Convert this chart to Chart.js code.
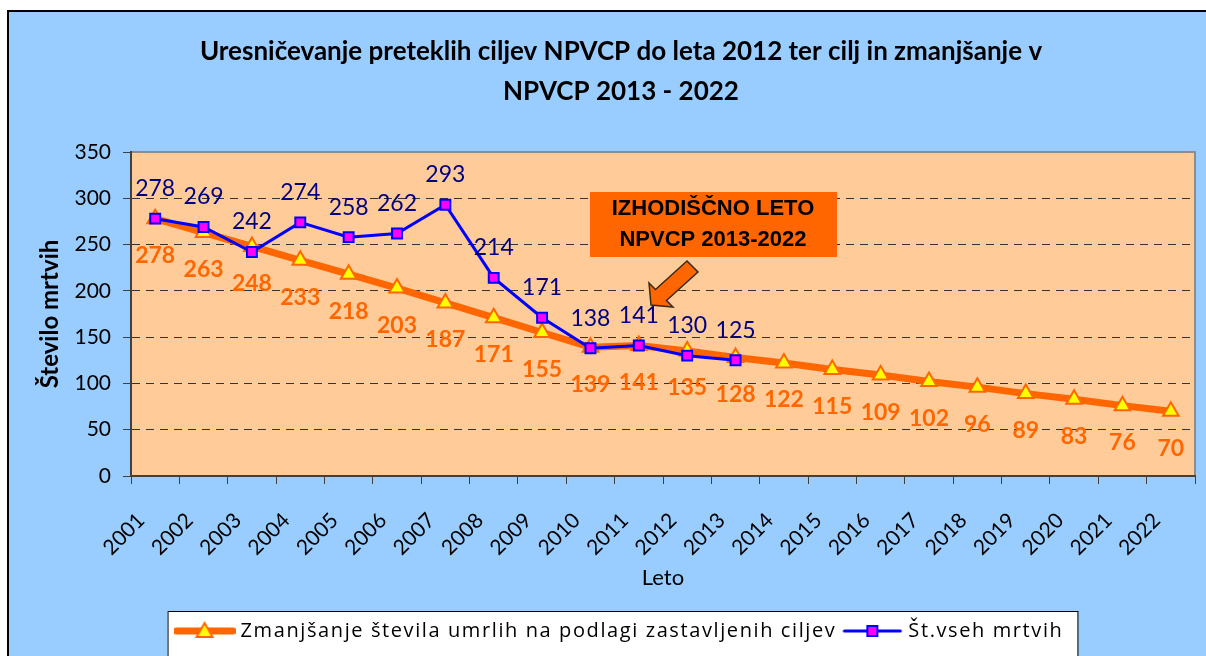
<!DOCTYPE html>
<html lang="sl">
<head>
    <meta charset="UTF-8">
    <title>Uresničevanje ciljev NPVCP</title>
    <script src="https://cdn.jsdelivr.net/npm/chart.js"></script>
    <style>
        body {
            margin: 0;
            overflow: hidden;
            background: #fff;
        }
        #frame {
            position: absolute;
            left: 7px;
            top: 10px;
            width: 1220px;
            height: 700px;
            border: 2px solid #000;
            background: #99ccff;
        }
        #chart {
            position: absolute;
            left: 0;
            top: 0;
        }
    </style>
</head>
<body>
<div id="frame"></div>
<canvas id="chart" width="1206" height="680"></canvas>

<script>
    // podatki
    const years = ['2001', '2002', '2003', '2004', '2005', '2006', '2007', '2008', '2009', '2010', '2011',
        '2012', '2013', '2014', '2015', '2016', '2017', '2018', '2019', '2020', '2021', '2022'];
    const goalDeaths = [278, 263, 248, 233, 218, 203, 187, 171, 155, 139, 141, 135, 128, 122, 115, 109, 102, 96, 89, 83, 76, 70];
    const actualDeaths = [278, 269, 242, 274, 258, 262, 293, 214, 171, 138, 141, 130, 125,
        null, null, null, null, null, null, null, null, null];
    const yMin = 0;
    const yMax = 350;
    const yStep = 50;
    const goalLabel = 'Zmanjšanje števila umrlih na podlagi zastavljenih ciljev';
    const actualLabel = 'Št.vseh mrtvih';
    const titleLines = ['Uresničevanje preteklih ciljev NPVCP do leta 2012 ter cilj in zmanjšanje v', 'NPVCP 2013 - 2022'];
    const noteLines = ['IZHODIŠČNO LETO', 'NPVCP 2013-2022'];

    Chart.defaults.font.family = 'Lato';

    // slikice za legendo (črta + oznaka)
    function legendMark(lineColor, lineWidth, drawMarker) {
        const c = document.createElement('canvas');
        c.width = 62;
        c.height = 22;
        const g = c.getContext('2d');
        g.strokeStyle = lineColor;
        g.lineWidth = lineWidth;
        g.lineCap = 'round';
        g.beginPath();
        g.moveTo(3, 11);
        g.lineTo(59, 11);
        g.stroke();
        drawMarker(g);
        return c;
    }

    const goalMark = legendMark('#ff6600', 7, g => {
        g.beginPath();
        g.moveTo(31, 3);
        g.lineTo(39, 17);
        g.lineTo(23, 17);
        g.closePath();
        g.fillStyle = '#ffff00';
        g.fill();
        g.lineWidth = 2;
        g.strokeStyle = '#ff6600';
        g.stroke();
    });
    const actualMark = legendMark('#0000ff', 3, g => {
        g.fillStyle = '#ff00ff';
        g.fillRect(26, 6, 10, 10);
        g.lineWidth = 2;
        g.strokeStyle = '#0000ff';
        g.strokeRect(26, 6, 10, 10);
    });

    // razmik med črkami v legendi (kot v izvirniku)
    const legendSpacing = {
        id: 'legendSpacing',
        beforeLayout(chart) {
            const lg = chart.legend;
            if (!lg || lg._spaced) return;
            lg._spaced = true;
            ['fit', 'draw'].forEach(name => {
                const orig = lg[name].bind(lg);
                lg[name] = function (...args) {
                    const c = chart.ctx;
                    const prev = c.letterSpacing;
                    c.letterSpacing = '1.6px';
                    const r = orig(...args);
                    c.letterSpacing = prev || '0px';
                    return r;
                };
            });
        }
    };

    // ozadje risalne površine in okvir legende
    const backdrop = {
        id: 'backdrop',
        beforeDraw(chart) {
            const {ctx, chartArea: a, legend} = chart;
            ctx.save();
            ctx.fillStyle = '#ffcc99';
            ctx.fillRect(a.left, a.top, a.right - a.left, a.bottom - a.top);
            ctx.strokeStyle = '#8c8c8c';
            ctx.lineWidth = 2;
            ctx.beginPath();
            ctx.moveTo(a.left, a.top);
            ctx.lineTo(a.right, a.top);
            ctx.lineTo(a.right, a.bottom);
            ctx.stroke();

            const boxes = legend.legendHitBoxes;
            if (boxes && boxes.length) {
                const last = boxes[boxes.length - 1];
                const x1 = boxes[0].left - 11;
                const x2 = last.left + last.width + 14;
                const y1 = legend.top;
                ctx.fillStyle = '#fff';
                ctx.fillRect(x1, y1, x2 - x1, 60);
                ctx.strokeStyle = '#000';
                ctx.lineWidth = 1;
                ctx.strokeRect(x1 + 0.5, y1 + 0.5, x2 - x1, 60);
            }
            ctx.restore();
        }
    };

    // vrednosti ob točkah
    const valueLabels = {
        id: 'valueLabels',
        afterDatasetsDraw(chart) {
            const ctx = chart.ctx;
            ctx.save();
            ctx.textAlign = 'center';
            ctx.textBaseline = 'middle';
            chart.data.datasets.forEach((ds, i) => {
                const meta = chart.getDatasetMeta(i);
                ctx.font = ds.valueFont;
                ctx.fillStyle = ds.valueColor;
                meta.data.forEach((pt, j) => {
                    const v = ds.data[j];
                    if (v === null || v === undefined) return;
                    ctx.fillText(String(v), pt.x, pt.y + ds.valueShift);
                });
            });
            ctx.restore();
        }
    };

    // napis in puščica
    const note = {
        id: 'note',
        afterDatasetsDraw(chart) {
            const ctx = chart.ctx;
            ctx.save();
            ctx.fillStyle = '#ff6600';
            ctx.fillRect(590, 192, 247, 65);
            ctx.fillStyle = '#000';
            ctx.font = 'bold 22px "Liberation Sans"';
            ctx.textAlign = 'center';
            ctx.textBaseline = 'middle';
            ctx.fillText(noteLines[0], 713, 209);
            ctx.fillText(noteLines[1], 713, 240);

            ctx.beginPath();
            ctx.moveTo(651, 305);
            ctx.lineTo(649, 283);
            ctx.lineTo(655.5, 289.5);
            ctx.lineTo(687, 261);
            ctx.lineTo(698, 272);
            ctx.lineTo(666.5, 300.5);
            ctx.lineTo(673, 307);
            ctx.closePath();
            ctx.fillStyle = '#ff6600';
            ctx.fill();
            ctx.strokeStyle = '#3a2a1a';
            ctx.lineWidth = 1.5;
            ctx.stroke();
            ctx.restore();
        }
    };

    const ctx = document.getElementById('chart').getContext('2d');

    new Chart(ctx, {
        type: 'line',
        data: {
            labels: years,
            datasets: [{
                label: actualLabel,
                data: actualDeaths,
                borderColor: '#0000ff',
                borderWidth: 3,
                pointStyle: 'rect',
                pointRadius: 7,
                pointBorderWidth: 2,
                pointBackgroundColor: '#ff00ff',
                pointBorderColor: '#0000ff',
                tension: 0,
                spanGaps: false,
                valueFont: '23px Lato',
                valueColor: '#000080',
                valueShift: -30
            }, {
                label: goalLabel,
                data: goalDeaths,
                borderColor: '#ff6600',
                borderWidth: 7,
                pointStyle: 'triangle',
                pointRadius: 9,
                pointBorderWidth: 2,
                pointBackgroundColor: '#ffff00',
                pointBorderColor: '#ff6600',
                tension: 0,
                valueFont: 'bold 23px Lato',
                valueColor: '#ff6600',
                valueShift: 37
            }]
        },
        options: {
            responsive: false,
            animation: false,
            layout: {
                padding: {left: 44, right: 8, top: 0, bottom: 29}
            },
            plugins: {
                tooltip: {enabled: false},
                title: {
                    display: true,
                    text: titleLines,
                    color: '#000',
                    font: {size: 26, weight: 'bold', lineHeight: 40 / 26},
                    padding: {top: 32, bottom: 40}
                },
                legend: {
                    position: 'bottom',
                    labels: {
                        color: '#000',
                        font: {family: 'Open Sans', size: 20},
                        usePointStyle: true,
                        pointStyleWidth: 52,
                        padding: 10,
                        generateLabels: chart => [
                            {text: goalLabel, pointStyle: goalMark, fontColor: '#000', datasetIndex: 1, lineWidth: 0},
                            {text: actualLabel, pointStyle: actualMark, fontColor: '#000', datasetIndex: 0, lineWidth: 0}
                        ]
                    }
                }
            },
            scales: {
                x: {
                    offset: true,
                    afterFit: s => {
                        s.height = 135;
                        s.paddingLeft = 0;
                        s.paddingRight = 0;
                    },
                    grid: {
                        offset: true,
                        drawOnChartArea: false,
                        tickLength: 8,
                        tickColor: '#404040',
                        color: '#404040'
                    },
                    border: {color: '#404040', width: 2},
                    ticks: {
                        autoSkip: false,
                        minRotation: 45,
                        maxRotation: 45,
                        padding: 24,
                        labelOffset: -14,
                        color: '#000',
                        font: {size: 21}
                    },
                    title: {
                        display: true,
                        text: 'Leto',
                        color: '#000',
                        font: {size: 22},
                        padding: {top: 0, bottom: 20}
                    }
                },
                y: {
                    min: yMin,
                    max: yMax,
                    afterFit: s => { s.width = 87; },
                    grid: {
                        tickLength: 8,
                        tickColor: '#404040',
                        color: c => (c.tick && (c.tick.value === yMax || c.tick.value === yMin)) ? 'rgba(0,0,0,0)' : '#333'
                    },
                    border: {color: '#404040', width: 2, dash: [8, 6]},
                    ticks: {
                        stepSize: yStep,
                        padding: 12,
                        color: '#000',
                        font: {size: 21}
                    },
                    title: {
                        display: true,
                        text: 'Število mrtvih',
                        color: '#000',
                        font: {size: 24, weight: 'bold', lineHeight: 1},
                        padding: {top: -6, bottom: 0}
                    }
                }
            }
        },
        plugins: [legendSpacing, backdrop, valueLabels, note]
    });
</script>
</body>
</html>
